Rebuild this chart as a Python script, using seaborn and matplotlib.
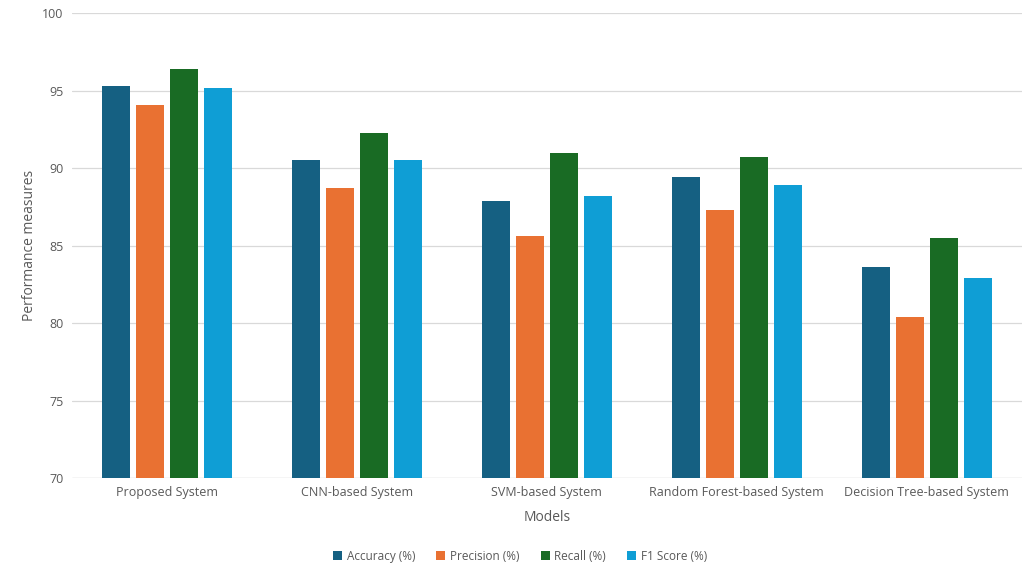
import pandas as pd
import matplotlib.pyplot as plt
import seaborn as sns

# =========================================================
# DATA
# =========================================================
models = ["Proposed System", "CNN-based System", "SVM-based System",
          "Random Forest-based System", "Decision Tree-based System"]
metrics = ["Accuracy (%)", "Precision (%)", "Recall (%)", "F1 Score (%)"]
accuracy  = [95.3, 90.5, 87.9, 89.4, 83.6]
precision = [94.1, 88.7, 85.6, 87.3, 80.4]
recall    = [96.4, 92.3, 91.0, 90.7, 85.5]
f1_score  = [95.2, 90.5, 88.2, 88.9, 82.9]

colors = ["#156082", "#E97132", "#196B24", "#0F9ED5"]

df = pd.DataFrame({"Model": models,
                   metrics[0]: accuracy, metrics[1]: precision,
                   metrics[2]: recall, metrics[3]: f1_score})
long = df.melt(id_vars="Model", var_name="Metric", value_name="Value")

sns.set_theme(style="white")
plt.rcParams["font.family"] = ["Open Sans", "DejaVu Sans"]

fig = plt.figure(figsize=(10.34, 5.75), dpi=100)
ax = fig.add_axes([0.0696, 0.1687, 0.9184, 0.8083])

sns.barplot(data=long, x="Model", y="Value", hue="Metric", hue_order=metrics,
            palette=colors, width=0.716, gap=0.18, saturation=1,
            linewidth=0, ax=ax, zorder=3)

ax.set_ylim(70, 100)
ax.set_yticks(range(70, 101, 5))
ax.grid(axis="y", color="#D9D9D9", linewidth=0.9, zorder=0)
for s in ax.spines.values():
    s.set_visible(False)
ax.axhline(70, color="#D9D9D9", linewidth=0.9, zorder=1)
ax.tick_params(axis="both", length=0, labelsize=9, colors="#595959", pad=6)
ax.set_xlabel("Models", fontsize=10, color="#595959", labelpad=8)
ax.set_ylabel("Performance measures", fontsize=10, color="#595959", labelpad=4)

handles, labels = ax.get_legend_handles_labels()
ax.get_legend().remove()
fig.legend(handles, labels, loc="center", bbox_to_anchor=(0.503, 0.033), ncol=4,
           frameon=False, fontsize=8.5, handlelength=0.75, handleheight=0.75,
           handletextpad=0.4, columnspacing=1.8, labelcolor="#595959")

fig.savefig("out.png", dpi=100)
plt.close()
